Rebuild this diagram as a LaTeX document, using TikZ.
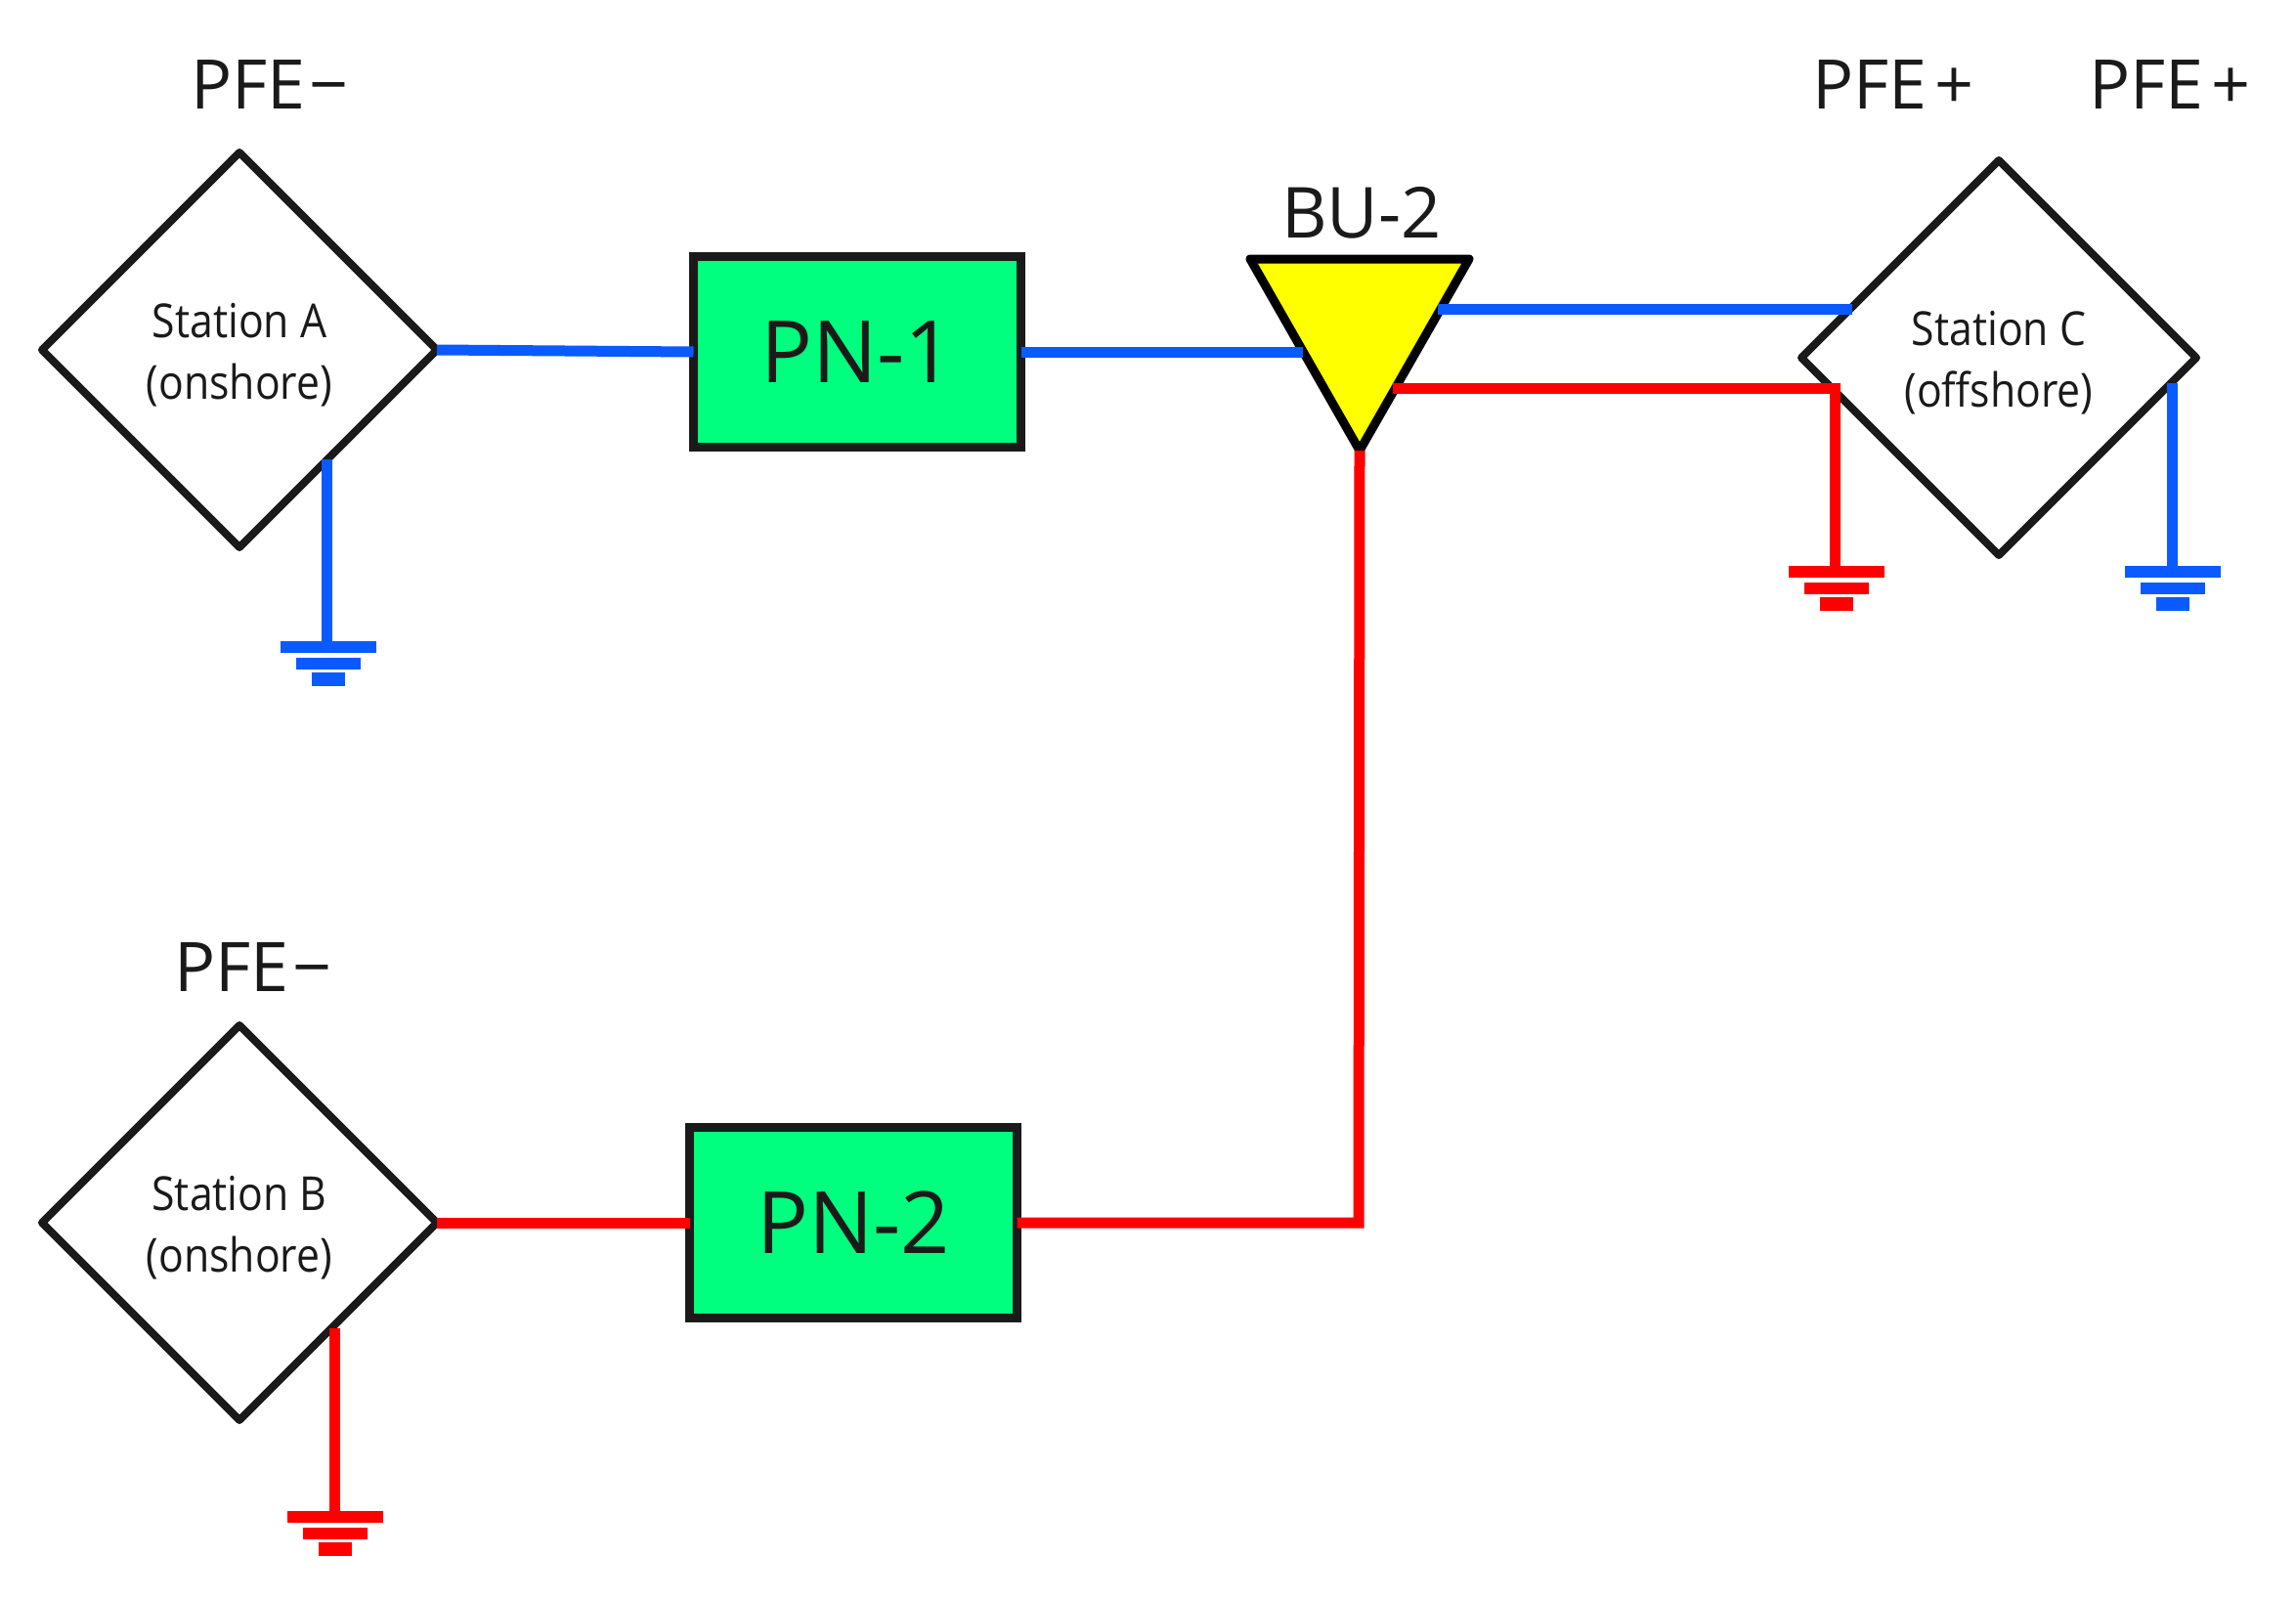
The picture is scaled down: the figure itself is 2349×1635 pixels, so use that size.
\documentclass[tikz,border=0pt]{standalone}
\usepackage{fontspec}
\setmainfont{Open Sans}
\newfontfamily\stationfont[FakeStretch=0.89]{Open Sans}
\usetikzlibrary{shapes.geometric}
\definecolor{pfeblue}{HTML}{0A5AFF}
\definecolor{pfered}{HTML}{FF0000}
\definecolor{pngreen}{HTML}{00FF7F}
\definecolor{buyellow}{HTML}{FFFF00}
\definecolor{inkblack}{HTML}{1A1A1A}
\tikzset{
  station/.style={shape=diamond,draw=inkblack,line width=8pt,line join=round,minimum width=404pt,minimum height=404pt,inner sep=0pt,outer sep=0pt,align=center,text=inkblack,font=\stationfont\fontsize{48}{63}\selectfont},
  pn/.style={shape=rectangle,draw=inkblack,line width=9pt,fill=pngreen,minimum width=335pt,minimum height=195pt,inner sep=0pt,outer sep=0pt,text=inkblack,font=\fontsize{88}{100}\selectfont},
  bu/.style={shape=isosceles triangle,shape border rotate=-90,isosceles triangle apex angle=61,isosceles triangle stretches,draw=black,line width=9pt,fill=buyellow,minimum width=224pt,minimum height=196pt,inner sep=0pt,outer sep=0pt,line join=round},
  tag/.style={anchor=base,text=inkblack,inner sep=0pt,font=\fontsize{70}{84}\selectfont},
  feeder/.style={line width=11pt},
  bluefeed/.style={feeder,draw=pfeblue},
  redfeed/.style={feeder,draw=pfered},
  pics/gnd/.style={code={
    \fill (-49,-1) rectangle (49,11);
    \fill (-33,16) rectangle (33,28);
    \fill (-17,31) rectangle (17,45);
  }}
}
\begin{document}
\begin{tikzpicture}[x=1pt,y=-1pt]
\useasboundingbox (0,0) rectangle (2349,1635);

% stations
\node[station] (sa) at (245,358) {\rule{0pt}{46pt}Station A\\(onshore)};
\node[station] (sb) at (245,1251) {\rule{0pt}{46pt}Station B\\(onshore)};
\node[station] (sc) at (2045,366) {\rule{0pt}{46pt}Station C\\(offshore)};

% power nodes
\node[pn] (pn1) at (877,360) {PN-1};
\node[pn] (pn2) at (873,1251) {PN-2};

% branching unit
\node[bu] (bu2) at (1391,330) {};

% labels
\node[tag] (la) at (276,112) {PFE\kern4pt−};
\node[tag] (lb) at (259,1014) {PFE\kern4pt−};
\node[tag] (lc) at (1937,112) {PFE\kern8pt+};
\node[tag] (ld) at (2220,112) {PFE\kern8pt+};
\node[tag,font=\fontsize{72}{84}\selectfont] (le) at (1393,243) {BU-2};

% connector ends
\coordinate (bul) at (1333,360);
\coordinate (bub) at (1471,316);
\coordinate (bur) at (1425,397);
\coordinate (scb) at (1895,316);
\coordinate (scr) at (1877,397);
\coordinate (scd) at (2222,392);
\coordinate (sad) at (334,470);
\coordinate (sbd) at (342,1359);
\coordinate (junc) at (1390,1251);
\coordinate (ga) at (336,657);
\coordinate (gb) at (343,1547);
\coordinate (gc) at (1879,580);
\coordinate (gd) at (2223,580);

% blue feeders
\draw[bluefeed] (sa.east) -- (pn1.west);
\draw[bluefeed] (pn1.east) -- (bul);
\draw[bluefeed] (bub) -- (scb);
\draw[bluefeed] (sad) -- (sad |- ga);
\draw[bluefeed] (scd) -- (scd |- gd);

% red feeders
\draw[redfeed] (sb.east) -- (pn2.west);
\draw[redfeed,line join=miter] (pn2.east) -- (junc) -- (bu2.apex);
\draw[redfeed,line join=miter] (bur) -- (scr) -- (scr |- gc);
\draw[redfeed] (sbd) -- (sbd |- gb);

% grounds
\pic[color=pfeblue] at (ga) {gnd};
\pic[color=pfered] at (gb) {gnd};
\pic[color=pfered] at (gc) {gnd};
\pic[color=pfeblue] at (gd) {gnd};
\end{tikzpicture}
\end{document}
